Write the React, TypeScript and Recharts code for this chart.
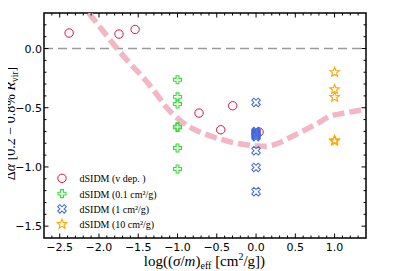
import React from 'react';
import {
  ComposedChart,
  Scatter,
  Line,
  XAxis,
  YAxis,
  ReferenceLine,
  ReferenceArea,
  Legend,
} from 'recharts';

// ---------- data ----------
const X_DOMAIN: [number, number] = [-2.7, 1.4];
const Y_DOMAIN: [number, number] = [-1.6, 0.3];

const X_MAJOR = [-2.5, -2.0, -1.5, -1.0, -0.5, 0.0, 0.5, 1.0];
const X_TICK_LABELS = ['−2.5', '−2.0', '−1.5', '−1.0', '−0.5', '0.0', '0.5', '1.0'];
const Y_MAJOR = [0.0, -0.5, -1.0, -1.5];
const Y_TICK_LABELS = ['0.0', '−0.5', '−1.0', '−1.5'];

const VDEP_X = [-2.38, -1.745, -1.54, -0.726, -0.45, -0.297, 0.038];
const VDEP_Y = [0.131, 0.122, 0.161, -0.545, -0.686, -0.483, -0.705];

const S01_X = [-1.0, -1.0, -1.0, -1.0, -1.0, -1.0, -1.0];
const S01_Y = [-0.264, -0.408, -0.469, -0.66, -0.666, -0.84, -1.017];

const S1_X = [0.0, 0.0, 0.0, 0.0, 0.0, 0.0, 0.0, 0.0, 0.0, 0.0];
const S1_Y = [-0.455, -0.7, -0.71, -0.718, -0.726, -0.735, -0.744, -0.863, -1.004, -1.209];

const S10_X = [1.0, 1.0, 1.0, 1.0, 1.0];
const S10_Y = [-0.2, -0.345, -0.41, -0.775, -0.782];

const FIT_X = [-2.13, -1.95, -1.77, -1.6, -1.41, -1.25, -1.15, -0.98, -0.85, -0.73, -0.55, -0.43, -0.25, -0.13, 0.0, 0.12, 0.29, 0.45, 0.63, 0.8, 0.93, 1.1, 1.25, 1.4];
const FIT_Y = [0.3, 0.15, 0.0, -0.13, -0.265, -0.4, -0.489, -0.6, -0.66, -0.7, -0.745, -0.77, -0.8, -0.812, -0.822, -0.826, -0.798, -0.745, -0.686, -0.625, -0.575, -0.548, -0.53, -0.515];

const LEGEND_LABELS = ['dSIDM (v dep. )', 'dSIDM (0.1 cm²/g)', 'dSIDM (1 cm²/g)', 'dSIDM (10 cm²/g)'];

const toPoints = (xs: number[], ys: number[]) => xs.map((x, i) => ({ x, y: ys[i] }));
const vdep = toPoints(VDEP_X, VDEP_Y);
const s01 = toPoints(S01_X, S01_Y);
const s1 = toPoints(S1_X, S1_Y);
const s10 = toPoints(S10_X, S10_Y);
const fit = toPoints(FIT_X, FIT_Y);

// minor tick positions every 0.1 inside domain
const X_TICKS: number[] = [];
for (let k = -26; k <= 13; k++) X_TICKS.push(Math.round(k) / 10);
const Y_TICKS: number[] = [];
for (let k = -15; k <= 2; k++) Y_TICKS.push(Math.round(k) / 10);

// ---------- layout / styles ----------
const W = 407;
const H = 271;
const PLOT = { left: 44, top: 13, right: 366, bottom: 238 };

const RED = '#DC143C';
const GREEN = '#33DD33';
const BLUE = '#4169E1';
const ORANGE = '#FFA500';
const PINK = '#F4B5C4';

const SERIF = '"Liberation Serif", "DejaVu Serif", serif';
const SANS = '"DejaVu Sans", sans-serif';

function plusPath(cx: number, cy: number, s: number, t: number) {
  const p = [
    [-t, -s], [t, -s], [t, -t], [s, -t], [s, t], [t, t],
    [t, s], [-t, s], [-t, t], [-s, t], [-s, -t], [-t, -t],
  ];
  return 'M' + p.map(([a, b]) => `${cx + a},${cy + b}`).join('L') + 'Z';
}

function starPath(cx: number, cy: number, R: number, r: number) {
  const pts: string[] = [];
  for (let i = 0; i < 10; i++) {
    const ang = -Math.PI / 2 + (i * Math.PI) / 5;
    const rad = i % 2 === 0 ? R : r;
    pts.push(`${cx + rad * Math.cos(ang)},${cy + rad * Math.sin(ang)}`);
  }
  return 'M' + pts.join('L') + 'Z';
}

function Marker({ kind, cx, cy }: { kind: string; cx: number; cy: number }) {
  if (kind === 'circle')
    return <circle cx={cx} cy={cy} r={4.2} fill="none" stroke={RED} strokeWidth={1} />;
  if (kind === 'plus')
    return <path d={plusPath(cx, cy, 4, 1.4)} fill="none" stroke={GREEN} strokeWidth={1.1} />;
  if (kind === 'x')
    return (
      <path
        d={plusPath(cx, cy, 4.6, 1.5)}
        transform={`rotate(45 ${cx} ${cy})`}
        fill="none"
        stroke={BLUE}
        strokeWidth={1}
      />
    );
  return <path d={starPath(cx, cy, 5, 2.2)} fill="none" stroke={ORANGE} strokeWidth={1.1} />;
}

const shapeOf = (kind: string) => (props: any) =>
  props.cx == null ? <g /> : <Marker kind={kind} cx={props.cx} cy={props.cy} />;

const isMajor = (v: number, majors: number[]) => majors.findIndex((m) => Math.abs(m - v) < 1e-6);

const XTick = (props: any) => {
  const { x, payload } = props;
  const idx = isMajor(payload.value, X_MAJOR);
  const len = idx >= 0 ? 4.5 : 2.5;
  return (
    <g>
      <line x1={x} x2={x} y1={PLOT.bottom} y2={PLOT.bottom - len} stroke="#000" strokeWidth={1} />
      <line x1={x} x2={x} y1={PLOT.top} y2={PLOT.top + len} stroke="#000" strokeWidth={1} />
      {idx >= 0 && (
        <text x={x} y={250.5} textAnchor="middle" fontSize={11} fontFamily={SANS} fill="#000">
          {X_TICK_LABELS[idx]}
        </text>
      )}
    </g>
  );
};

const YTick = (props: any) => {
  const { y, payload } = props;
  const idx = isMajor(payload.value, Y_MAJOR);
  const len = idx >= 0 ? 4.5 : 2.5;
  return (
    <g>
      <line x1={PLOT.left} x2={PLOT.left + len} y1={y} y2={y} stroke="#000" strokeWidth={1} />
      <line x1={PLOT.right} x2={PLOT.right - len} y1={y} y2={y} stroke="#000" strokeWidth={1} />
      {idx >= 0 && (
        <text x={42} y={y + 4} textAnchor="end" fontSize={11} fontFamily={SANS} fill="#000">
          {Y_TICK_LABELS[idx]}
        </text>
      )}
    </g>
  );
};

const XTitle = () => (
  <text x={204.5} y={266} textAnchor="middle" fontSize={15} fontFamily={SERIF} fill="#000">
    log((<tspan fontStyle="italic">σ</tspan>/<tspan fontStyle="italic">m</tspan>)
    <tspan fontSize={10} dy={3}>eff</tspan>
    <tspan dy={-3}> [cm</tspan>
    <tspan fontSize={10} dy={-6}>2</tspan>
    <tspan dy={6}>/g])</tspan>
  </text>
);

const YTitle = () => (
  <text
    transform="rotate(-90)"
    x={-123.5}
    y={15}
    textAnchor="middle"
    fontSize={14}
    fontFamily={SERIF}
    fill="#000"
  >
    Δ<tspan fontStyle="italic">α</tspan> [0.2 − 0.8% <tspan fontStyle="italic">R</tspan>
    <tspan fontSize={9.5} dy={2.5}>vir</tspan>
    <tspan dy={-2.5}>]</tspan>
  </text>
);

const LEGEND_KINDS = ['circle', 'plus', 'x', 'star'];

const LegendContent = () => (
  <svg width={110} height={64} style={{ display: 'block' }}>
    {LEGEND_LABELS.map((label, i) => {
      const cy = 8.3 + i * 15.3;
      return (
        <g key={label}>
          <Marker kind={LEGEND_KINDS[i]} cx={7} cy={cy} />
          <text x={24.5} y={cy + 4} fontSize={10} fontFamily={SERIF} fill="#000">
            {label}
          </text>
        </g>
      );
    })}
  </svg>
);

export default function App() {
  return (
    <div style={{ marginLeft: -8, marginTop: -8, width: W, height: H, background: '#fff' }}>
      <ComposedChart
        width={W}
        height={H}
        margin={{ top: PLOT.top, right: W - PLOT.right, left: 0, bottom: 0 }}
        style={{ overflow: 'visible' }}
      >
        <XAxis
          dataKey="x"
          type="number"
          domain={X_DOMAIN}
          allowDataOverflow
          ticks={X_TICKS}
          interval={0}
          tickSize={0}
          tickMargin={0}
          tickLine={false}
          axisLine={false}
          tick={<XTick />}
          height={H - PLOT.bottom}
          label={{ content: () => <XTitle /> }}
        />
        <YAxis
          dataKey="y"
          type="number"
          domain={Y_DOMAIN}
          allowDataOverflow
          ticks={Y_TICKS}
          interval={0}
          tickSize={0}
          tickMargin={0}
          tickLine={false}
          axisLine={false}
          tick={<YTick />}
          width={PLOT.left}
          label={{ content: () => <YTitle /> }}
        />
        <ReferenceLine y={0} stroke="#9a9a9a" strokeWidth={1.5} strokeDasharray="9 5" />
        <Line
          data={fit}
          dataKey="y"
          type="monotone"
          stroke={PINK}
          strokeWidth={5.5}
          strokeDasharray="12 5"
          dot={false}
          activeDot={false}
          isAnimationActive={false}
          legendType="none"
        />
        <Scatter data={vdep} dataKey="y" shape={shapeOf('circle')} isAnimationActive={false} />
        <Scatter data={s01} dataKey="y" shape={shapeOf('plus')} isAnimationActive={false} />
        <Scatter data={s1} dataKey="y" shape={shapeOf('x')} isAnimationActive={false} />
        <Scatter data={s10} dataKey="y" shape={shapeOf('star')} isAnimationActive={false} />
        <ReferenceArea
          x1={X_DOMAIN[0]}
          x2={X_DOMAIN[1]}
          y1={Y_DOMAIN[0]}
          y2={Y_DOMAIN[1]}
          fill="none"
          fillOpacity={0}
          stroke="#000"
          strokeWidth={1.5}
        />
        <Legend
          layout="vertical"
          align="center"
          verticalAlign="middle"
          content={<LegendContent />}
          wrapperStyle={{ position: 'absolute', left: 55, top: 170, width: 110, height: 64 }}
        />
      </ComposedChart>
    </div>
  );
}
